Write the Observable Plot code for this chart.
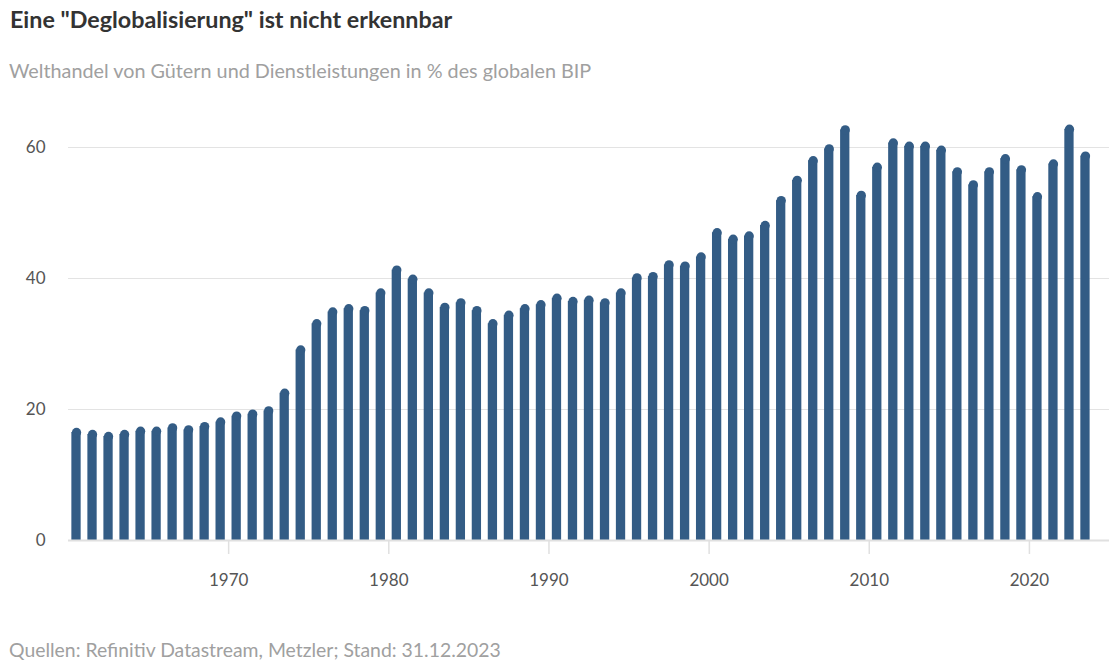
<!DOCTYPE html>
<html>
<head>
<meta charset="utf-8">
<script src="https://cdn.jsdelivr.net/npm/d3@7"></script>
<script src="https://cdn.jsdelivr.net/npm/@observablehq/plot@0.6"></script>
<style>
  html, body { margin: 0; padding: 0; background: #fff; }
  body { width: 1116px; height: 668px; position: relative; overflow: hidden; font-family: Lato, "Noto Sans", sans-serif; }
  #title, #subtitle, #caption { position: absolute; white-space: nowrap; line-height: 1; }
  #title { left: 10px; top: 8px; font-size: 23.3px; font-weight: 700; color: #333; }
  #subtitle { left: 9px; top: 61px; font-size: 19.8px; color: #a0a0a0; }
  #caption { left: 9px; top: 640px; font-size: 19.4px; color: #a0a0a0; }
  #chart { position: absolute; left: 0; top: 100px; }
</style>
</head>
<body>
<div id="title">Eine "Deglobalisierung" ist nicht erkennbar</div>
<div id="subtitle">Welthandel von Gütern und Dienstleistungen in % des globalen BIP</div>
<div id="chart"></div>
<div id="caption">Quellen: Refinitiv Datastream, Metzler; Stand: 31.12.2023</div>
<script>
const years = d3.range(1960, 2024);
const values = [
  17.2, 16.9, 16.6, 16.9, 17.4, 17.4, 17.9, 17.6, 18.1, 18.8,
  19.7, 20.0, 20.5, 23.2, 29.8, 33.8, 35.6, 36.1, 35.8, 38.5,
  42.0, 40.6, 38.5, 36.3, 37.0, 35.8, 33.8, 35.1, 36.1, 36.7,
  37.7, 37.2, 37.4, 37.0, 38.5, 40.8, 41.0, 42.8, 42.6, 44.0,
  47.7, 46.7, 47.2, 48.8, 52.6, 55.7, 58.7, 60.5, 63.4, 53.4,
  57.7, 61.4, 60.9, 60.9, 60.3, 57.0, 55.0, 57.0, 59.0, 57.3,
  53.2, 58.2, 63.5, 59.4
];
const xTicks = [1970, 1980, 1990, 2000, 2010, 2020];
const yTicks = [0, 20, 40, 60];

const data = years.map((year, i) => ({year, value: values[i]}));
const barColor = "#335c85";
const capR = 4.65;

const chart = Plot.plot({
  width: 1116,
  height: 520,
  marginLeft: 68,
  marginRight: 7,
  marginTop: 47,
  marginBottom: 80,
  style: {fontFamily: "Lato, 'Noto Sans', sans-serif", fontSize: "17px", color: "#555", background: "transparent"},
  x: {domain: [1960, 2025], label: null},
  y: {domain: [0, 60], label: null},
  marks: [
    Plot.gridY([20, 40, 60], {stroke: "#e3e3e3", strokeOpacity: 1, strokeWidth: 1}),
    Plot.axisY(yTicks, {tickSize: 0, tickPadding: 23, fontSize: 17, fill: "#555", label: null}),
    Plot.axisX(xTicks, {tickSize: 14, tickPadding: 19, stroke: "#e0e0e0", strokeWidth: 1.5, fontSize: 17, fill: "#555", tickFormat: d => String(d), label: null}),
    Plot.rectY(data, {x1: d => d.year + 0.21, x2: d => d.year + 0.79, y: "value", insetTop: capR, fill: barColor}),
    Plot.dot(data, {x: d => d.year + 0.5, y: "value", r: capR, dy: capR, fill: barColor, stroke: null}),
    Plot.ruleY([0], {stroke: "#e0e0e0", strokeWidth: 2})
  ]
});
document.getElementById("chart").appendChild(chart);
</script>
</body>
</html>
